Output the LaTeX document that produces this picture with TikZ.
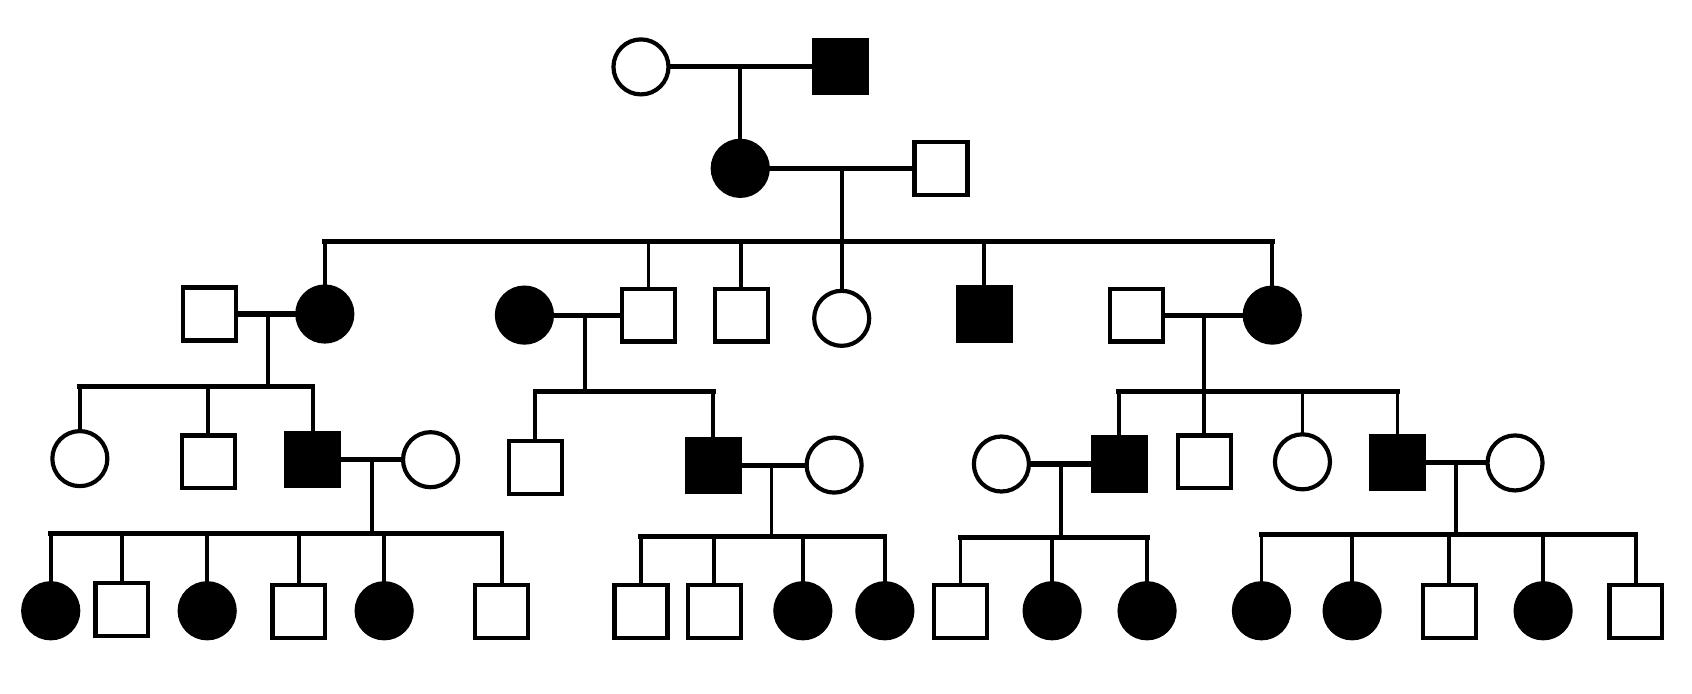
\documentclass[tikz,border=0pt]{standalone}
\usetikzlibrary{arrows.meta}

\begin{document}
\begin{tikzpicture}[line cap=rect,
  male/.style={draw, line width=1.1pt, rectangle, inner sep=0pt, minimum size=0.49cm},
  female/.style={draw, line width=1.1pt, circle, inner sep=0pt, minimum size=0.51cm},
  aff/.style={fill=black},
  mate/.style={line width=1.35pt},
  desc/.style={line width=1pt}]
\useasboundingbox (0,0) rectangle (15.68,6.43);
% ---------- 第一代 ----------
\node[female] (a1) at (5.94,5.81) {};
\node[male, aff] (a2) at (7.79,5.81) {};
\draw[mate] (a1) -- (a2);
\coordinate (ja) at (6.86,5.81);
% ---------- 第二代 ----------
\node[female, aff] (b1) at (6.86,4.87) {};
\node[male] (b2) at (8.72,4.87) {};
\draw[desc] (ja) -- (b1.north);
\draw[mate] (b1) -- (b2);
\coordinate (jb) at (7.80,4.87);
\coordinate (sb) at (7.80,4.19);
\draw[desc] (jb) -- (sb);
% ---------- 第三代 ----------
\node[male] (c1) at (1.94,3.52) {};
\node[female, aff] (c2) at (3.01,3.52) {};
\node[female, aff] (c3) at (4.86,3.51) {};
\node[male] (c4) at (6.01,3.51) {};
\node[male] (c5) at (6.87,3.51) {};
\node[female] (c6) at (7.80,3.48) {};
\node[male, aff] (c7) at (9.12,3.52) {};
\node[male] (c8) at (10.53,3.51) {};
\node[female, aff] (c9) at (11.79,3.51) {};
\draw[mate] (c2.north |- sb) -- (c9.north |- sb);
\draw[desc] (c2.north |- sb) -- (c2.north) (c4.north |- sb) -- (c4.north)
  (c5.north |- sb) -- (c5.north) (c6.north |- sb) -- (c6.north)
  (c7.north |- sb) -- (c7.north) (c9.north |- sb) -- (c9.north);
% 婚配
\draw[mate] (c1) -- (c2);
\draw[mate] (c3) -- (c4);
\draw[mate] (c8) -- (c9);
\coordinate (jc1) at (2.48,3.52);
\coordinate (sc1) at (2.48,2.85);
\coordinate (jc2) at (5.42,3.51);
\coordinate (sc2) at (5.42,2.80);
\coordinate (jc3) at (11.16,3.51);
\coordinate (sc3) at (11.16,2.80);
\draw[desc] (jc1) -- (sc1) (jc2) -- (sc2) (jc3) -- (sc3);
% ---------- 第四代 ----------
\node[female] (d1) at (0.74,2.18) {};
\node[male] (d2) at (1.93,2.15) {};
\node[male, aff] (d3) at (2.90,2.17) {};
\node[female] (d4) at (3.99,2.17) {};
\node[male] (d5) at (4.96,2.10) {};
\node[male, aff] (d6) at (6.61,2.12) {};
\node[female] (d7) at (7.73,2.12) {};
\node[female] (d8) at (9.28,2.13) {};
\node[male, aff] (d9) at (10.37,2.13) {};
\node[male] (d10) at (11.16,2.15) {};
\node[female] (d11) at (12.07,2.15) {};
\node[male, aff] (d12) at (12.95,2.14) {};
\node[female] (d13) at (14.04,2.14) {};
\draw[mate] (d1.north |- sc1) -- (d3.north |- sc1);
\draw[mate] (d5.north |- sc2) -- (d6.north |- sc2);
\draw[mate] (d9.north |- sc3) -- (d12.north |- sc3);
\draw[desc] (d1.north |- sc1) -- (d1.north) (d2.north |- sc1) -- (d2.north)
  (d3.north |- sc1) -- (d3.north);
\draw[desc] (d5.north |- sc2) -- (d5.north) (d6.north |- sc2) -- (d6.north);
\draw[desc] (d9.north |- sc3) -- (d9.north) (d10.north |- sc3) -- (d10.north)
  (d11.north |- sc3) -- (d11.north) (d12.north |- sc3) -- (d12.north);
% 婚配
\draw[mate] (d3) -- (d4);
\draw[mate] (d6) -- (d7);
\draw[mate] (d8) -- (d9);
\draw[mate] (d12) -- (d13);
\coordinate (jd1) at (3.45,2.17);
\coordinate (sd1) at (3.45,1.49);
\coordinate (jd2) at (7.15,2.12);
\coordinate (sd2) at (7.15,1.46);
\coordinate (jd3) at (9.83,2.13);
\coordinate (sd3) at (9.83,1.45);
\coordinate (jd4) at (13.49,2.14);
\coordinate (sd4) at (13.49,1.48);
\draw[desc] (jd1) -- (sd1) (jd2) -- (sd2) (jd3) -- (sd3) (jd4) -- (sd4);
% ---------- 第五代 ----------
\node[female, aff] (e1) at (0.47,0.77) {};
\node[male] (e2) at (1.13,0.78) {};
\node[female, aff] (e3) at (1.92,0.77) {};
\node[male] (e4) at (2.77,0.76) {};
\node[female, aff] (e5) at (3.56,0.77) {};
\node[male] (e6) at (4.65,0.76) {};
\node[male] (e7) at (5.94,0.76) {};
\node[male] (e8) at (6.62,0.76) {};
\node[female, aff] (e9) at (7.44,0.77) {};
\node[female, aff] (e10) at (8.20,0.77) {};
\node[male] (e11) at (8.90,0.76) {};
\node[female, aff] (e12) at (9.75,0.77) {};
\node[female, aff] (e13) at (10.63,0.77) {};
\node[female, aff] (e14) at (11.69,0.77) {};
\node[female, aff] (e15) at (12.53,0.77) {};
\node[male] (e16) at (13.43,0.76) {};
\node[female, aff] (e17) at (14.30,0.77) {};
\node[male] (e18) at (15.16,0.76) {};
\draw[mate] (e1.north |- sd1) -- (e6.north |- sd1);
\draw[mate] (e7.north |- sd2) -- (e10.north |- sd2);
\draw[mate] (e11.north |- sd3) -- (e13.north |- sd3);
\draw[mate] (e14.north |- sd4) -- (e18.north |- sd4);
\draw[desc] (e1.north |- sd1) -- (e1.north) (e2.north |- sd1) -- (e2.north)
  (e3.north |- sd1) -- (e3.north) (e4.north |- sd1) -- (e4.north)
  (e5.north |- sd1) -- (e5.north) (e6.north |- sd1) -- (e6.north);
\draw[desc] (e7.north |- sd2) -- (e7.north) (e8.north |- sd2) -- (e8.north)
  (e9.north |- sd2) -- (e9.north) (e10.north |- sd2) -- (e10.north);
\draw[desc] (e11.north |- sd3) -- (e11.north) (e12.north |- sd3) -- (e12.north)
  (e13.north |- sd3) -- (e13.north);
\draw[desc] (e14.north |- sd4) -- (e14.north) (e15.north |- sd4) -- (e15.north)
  (e16.north |- sd4) -- (e16.north) (e17.north |- sd4) -- (e17.north)
  (e18.north |- sd4) -- (e18.north);
\end{tikzpicture}
\end{document}
